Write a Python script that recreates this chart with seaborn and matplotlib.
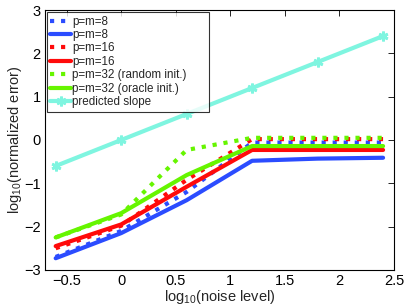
import numpy as np
import pandas as pd
import seaborn as sns
import matplotlib.pyplot as plt

# log10(noise level) grid
noise = [-0.6, 0.0, 0.6, 1.2, 1.8, 2.4]

# log10(normalized error) for each run
err_8_rand = [-2.70, -2.10, -1.20, -0.06, -0.06, -0.06]
err_8_orac = [-2.73, -2.15, -1.39, -0.48, -0.43, -0.41]
err_16_rand = [-2.50, -1.98, -0.92, 0.02, 0.02, 0.02]
err_16_orac = [-2.45, -1.95, -1.08, -0.23, -0.23, -0.23]
err_32_rand = [-2.25, -1.72, -0.23, 0.05, 0.05, 0.05]
err_32_orac = [-2.25, -1.69, -0.81, -0.14, -0.14, -0.14]
slope = [-0.6, 0.0, 0.6, 1.2, 1.8, 2.4]

labels = ['p=m=8', 'p=m=8', 'p=m=16', 'p=m=16',
          'p=m=32 (random init.)', 'p=m=32 (oracle init.)', 'predicted slope']

sns.set_style('white')
plt.rcParams['font.family'] = ['Liberation Sans', 'DejaVu Sans']
plt.rcParams['mathtext.fontset'] = 'custom'
plt.rcParams['mathtext.rm'] = 'Liberation Sans'
plt.rcParams['mathtext.it'] = 'Liberation Sans'

fig = plt.figure(figsize=(4.07, 3.05), dpi=100)
ax = fig.add_axes([0.11, 0.115, 0.858, 0.852])

blue = '#2b4cff'
red = '#ff0a0a'
green = '#66f500'
cyan = '#7ff5e0'

series = [
    (err_8_rand, blue, ':'),
    (err_8_orac, blue, '-'),
    (err_16_rand, red, ':'),
    (err_16_orac, red, '-'),
    (err_32_rand, green, ':'),
    (err_32_orac, green, '-'),
]
for (vals, col, ls), lab in zip(series, labels):
    sns.lineplot(x=noise, y=vals, ax=ax, color=col, linestyle=ls, linewidth=3,
                 label=lab)

sns.lineplot(x=noise, y=slope, ax=ax, color=cyan, linewidth=3, marker=(6, 2, 0),
             markersize=7, markeredgewidth=2, markeredgecolor=cyan,
             label=labels[-1])

ax.set_xlim(-0.7, 2.5)
ax.set_ylim(-3, 3)
ax.set_xticks([-0.5, 0, 0.5, 1, 1.5, 2, 2.5])
ax.set_xticklabels(['\u22120.5', '0', '0.5', '1', '1.5', '2', '2.5'])
ax.set_yticks([-3, -2, -1, 0, 1, 2, 3])
ax.set_yticklabels(['\u22123', '\u22122', '\u22121', '0', '1', '2', '3'])
ax.tick_params(direction='in', top=True, right=True, length=4, width=0.6,
               labelsize=10.5, pad=3, colors='black')
for s in ax.spines.values():
    s.set_color('black')
    s.set_linewidth(0.8)

ax.set_xlabel('log$_{10}$(noise level)', fontsize=10.5, labelpad=0)
ax.set_ylabel('log$_{10}$(normalized error)', fontsize=10.5, labelpad=0)

# MATLAB-style legend box, wider than its text
leg = ax.legend(loc='upper left', bbox_to_anchor=(0.006, 0.5, 0.464, 0.492),
                mode='expand', fontsize=8.4, frameon=True, fancybox=False,
                edgecolor='black', borderpad=0.3, labelspacing=0.12,
                handlelength=1.8, handletextpad=0.05, borderaxespad=0)
leg.get_frame().set_linewidth(0.8)

fig.savefig('out.png', dpi=100)
